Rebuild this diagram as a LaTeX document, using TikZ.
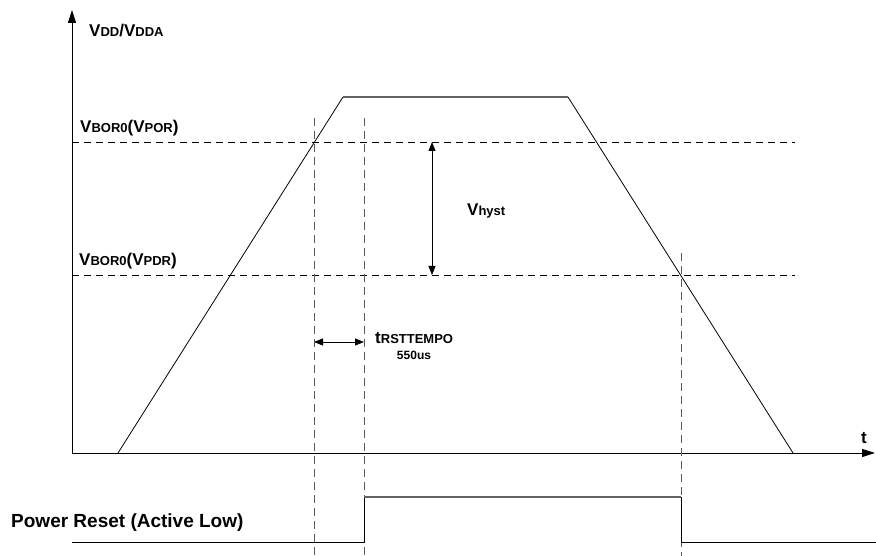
\documentclass[tikz,border=0pt]{standalone}
\usepackage{fontspec}
\setmainfont{Liberation Sans}
\usetikzlibrary{arrows.meta}
\definecolor{wire}{RGB}{100,100,100}
\definecolor{marker}{RGB}{90,90,90}
\tikzset{%
  lbl/.style={inner sep=0pt, anchor=base west, font=\bfseries\fontsize{17}{17}\selectfont},% text labels
  level/.style={line width=0.8pt, dash pattern=on 7pt off 5pt},% threshold lines
  tmark/.style={marker, line width=0.8pt, dash pattern=on 8pt off 5pt},% time markers
  signal/.style={line width=0.8pt},% waveform edges
  flat/.style={wire, line width=1.3pt},% waveform plateaus
  axis/.style={line width=1pt, -{Triangle[length=13pt, width=8pt]}},% axes
  span/.style={line width=0.9pt, {Triangle[length=9pt, width=7pt]}-{Triangle[length=9pt, width=7pt]}}% dimension arrows
}
\newcommand*{\sub}[1]{{\fontsize{13}{13}\selectfont #1}}
\begin{document}
\begin{tikzpicture}[x=1pt, y=-1pt]
\useasboundingbox (0, 0) rectangle (876, 556);

% axes
\coordinate (o) at (72, 453);
\coordinate (ytop) at (72, 10);
\coordinate (xend) at (875, 453);
\draw[axis] (o) -- (ytop);
\draw[axis] (o) -- (xend);
\node[lbl] (vdd) at (89, 37) {V\sub{DD}/V\sub{DDA}};
\node[lbl] (t) at (861, 443) {t};

% threshold levels
\coordinate (por0) at (72, 142);
\coordinate (por1) at (795, 142);
\coordinate (pdr0) at (72, 275);
\coordinate (pdr1) at (795, 275);
\draw[level] (por0) -- (por1);
\draw[level] (pdr0) -- (pdr1);
\node[lbl] (vpor) at (80, 133) {V\sub{BOR0}(V\sub{POR})};
\node[lbl] (vpdr) at (79, 266) {V\sub{BOR0}(V\sub{PDR})};

% supply ramp
\coordinate (v0) at (118, 453);
\coordinate (v1) at (343, 97);
\coordinate (v2) at (568, 97);
\coordinate (v3) at (793, 453);
\draw (v0) edge[signal] (v1);
\draw (v1) edge[flat] (v2);
\draw (v2) edge[signal] (v3);

% time markers
\coordinate (m1a) at (314, 118);
\coordinate (m1b) at (314, 556);
\coordinate (m2a) at (364, 118);
\coordinate (m2b) at (364, 556);
\coordinate (m3a) at (681, 253);
\coordinate (m3b) at (681, 556);
\draw (m1a) edge[tmark] (m1b);
\draw (m2a) edge[tmark] (m2b);
\draw (m3a) edge[tmark] (m3b);

% hysteresis
\coordinate (h0) at (432, 142);
\coordinate (h1) at (432, 275);
\draw (h0) edge[span] (h1);
\node[lbl] (vhyst) at (467, 216) {V\sub{hyst}};

% reset delay
\coordinate (d0) at (314, 342);
\coordinate (d1) at (364, 342);
\draw (d0) edge[span] (d1);
\node[lbl] (trst) at (375, 343) {t\sub{RSTTEMPO}};
\node[lbl, anchor=base, font=\bfseries\fontsize{12}{12}\selectfont] (dly) at (414, 359) {550us};

% reset signal
\coordinate (r0) at (72, 542);
\coordinate (r1) at (364, 542);
\coordinate (r2) at (364, 497);
\coordinate (r3) at (681, 497);
\coordinate (r4) at (681, 542);
\coordinate (r5) at (876, 542);
\draw[signal] (r0) -- (r1) -- (r2);
\draw (r2) edge[flat] (r3);
\draw[signal] (r3) -- (r4) -- (r5);
\node[lbl, font=\bfseries\fontsize{19}{19}\selectfont] (rst) at (11, 527) {Power Reset (Active Low)};

\end{tikzpicture}
\end{document}
